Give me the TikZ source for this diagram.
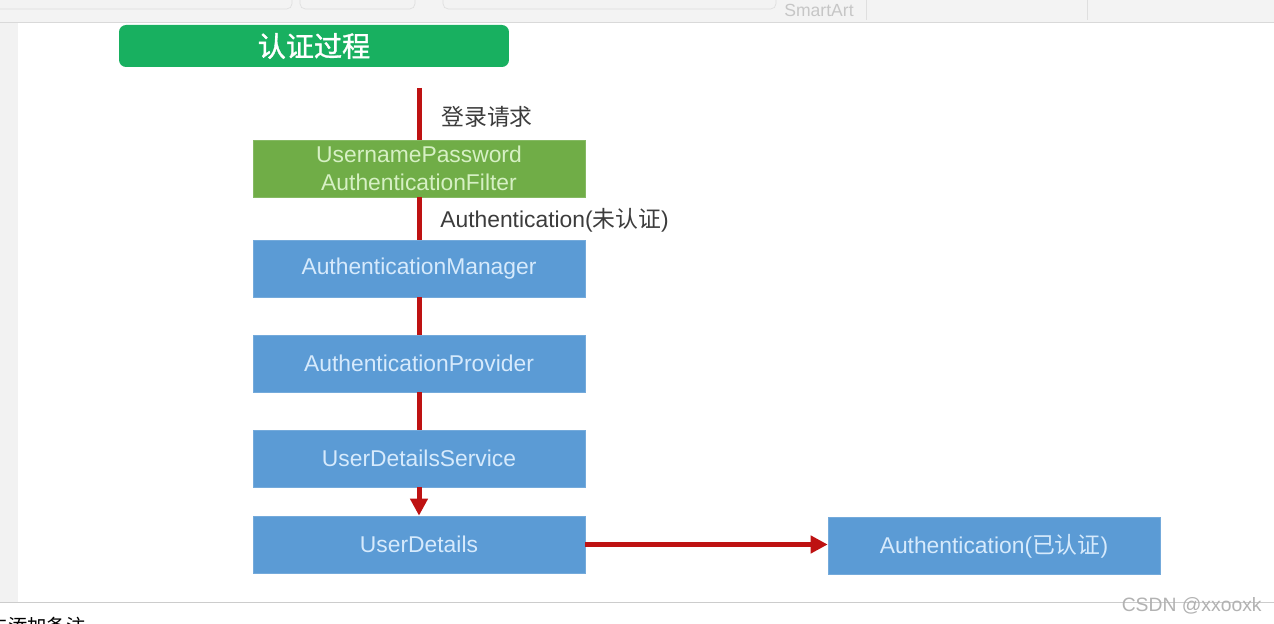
\documentclass[tikz,border=0pt]{standalone}
\usepackage{fontspec}
\setmainfont{Liberation Sans}
\newfontfamily\cjk{Noto Sans CJK SC}
\newfontfamily\cjktitle[FakeBold=1.2]{Noto Sans CJK SC}
\usetikzlibrary{arrows.meta}

\definecolor{titlegreen}{RGB}{24, 176, 96}
\definecolor{filtergreen}{RGB}{112, 173, 71}
\definecolor{boxblue}{RGB}{91, 155, 213}
\definecolor{flowred}{RGB}{190, 18, 18}
\definecolor{labelgray}{RGB}{60, 60, 60}
\definecolor{bluetext}{RGB}{214, 234, 252}
\definecolor{greentext}{RGB}{214, 240, 196}
\definecolor{toolbargray}{RGB}{243, 243, 243}

\tikzset{
	flowbox/.style={rectangle, minimum width=6.64cm, minimum height=1.14cm, inner sep=0pt, align=center, font=\fontsize{13}{16}\selectfont},
	bluebox/.style={flowbox, fill=boxblue, draw=boxblue!85!white, text=bluetext},
	greenbox/.style={flowbox, fill=filtergreen, draw=filtergreen!85!white, text=greentext},
	flowline/.style={draw=flowred, line width=0.1cm},
	flowarrow/.style={flowline, -{Triangle[length=0.34cm, width=0.34cm]}},
	steplabel/.style={anchor=west, text=labelgray, inner sep=0pt, font=\fontsize{13}{16}\selectfont}
}

\begin{document}
\begin{tikzpicture}[x=0.02cm, y=-0.02cm]
		\useasboundingbox (0,0) rectangle (1274,624);
		
		% Fensterrahmen (Werkzeugleiste, linker Rand, Notizbereich)
		\fill[white] (0,0) rectangle (1274,624);
		\fill[toolbargray] (0,0) rectangle (1274,22);
		\draw[gray!30] (0,22) -- (1274,22);
		\foreach \xa/\xb in {-5/292, 300/415, 443/776} {
			\draw[gray!25, rounded corners=3pt] (\xa,-8) rectangle (\xb,9);
		}
		\foreach \xd in {866, 1087} {
			\draw[gray!25] (\xd,0) -- (\xd,20);
		}
		\node[text=gray!45, font=\fontsize{10}{12}\selectfont, inner sep=0pt] (smartart) at (819,10) {SmartArt};
		\fill[gray!10] (0,23) rectangle (18,602);
		\draw[gray!40] (0,602) -- (1274,602);
		\begin{scope}
			\clip (0,603) rectangle (200,624);
			\node[anchor=east, inner sep=0pt, font=\cjk\fontsize{11}{13}\selectfont] (notes) at (86,626) {单击添加备注};
		\end{scope}
		\node[anchor=east, text=gray!60, inner sep=0pt, font=\fontsize{11}{13}\selectfont] (mark) at (1262,606) {CSDN @xxooxk};
		
		% Titel
		\node[fill=titlegreen, rounded corners=4pt, minimum width=7.8cm, minimum height=0.84cm, text=white, font=\cjktitle\fontsize{16}{19}\selectfont] (title) at (314,46) {认证过程};
		
		% Ablauf der Authentifizierung
		\coordinate (request) at (419,88);
		\node[greenbox] (filter) at (419,168.5) {UsernamePassword\\AuthenticationFilter};
		\node[bluebox] (manager) at (419,268.5) {AuthenticationManager};
		\node[bluebox] (provider) at (419,363.5) {AuthenticationProvider};
		\node[bluebox] (service) at (419,458.5) {UserDetailsService};
		\node[bluebox] (details) at (419,544.5) {UserDetails};
		\node[bluebox] (result) at (994,546) {Authentication({\cjk 已认证})};
		
		% Verbindungen
		\draw[flowline] (request) -- (filter.north);
		\draw[flowline] (filter.south) -- (manager.north);
		\draw[flowline] (manager.south) -- (provider.north);
		\draw[flowline] (provider.south) -- (service.north);
		\draw[flowarrow] (service.south) -- (details.north);
		\draw[flowarrow] (details.east) -- (details.east -| result.west);
		
		% Beschriftungen
		\node[steplabel, font=\cjk\fontsize{13}{16}\selectfont] (reqlabel) at (441,117) {登录请求};
		\node[steplabel] (authlabel) at (440,220) {Authentication({\cjk 未认证})};
		
\end{tikzpicture}
\end{document}
